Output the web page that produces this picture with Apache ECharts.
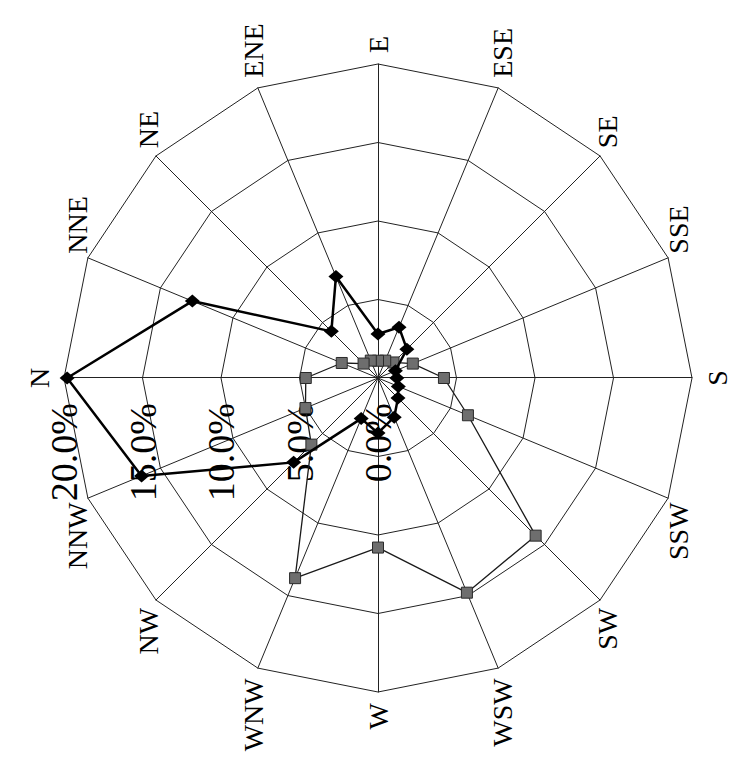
<!DOCTYPE html>
<html>
<head>
<meta charset="utf-8">
<script src="https://cdn.jsdelivr.net/npm/echarts@6/dist/echarts.min.js"></script>
<style>
  html, body { margin: 0; padding: 0; background: #fff; overflow: hidden; }
  body { width: 742px; height: 758px; position: relative; }
  /* chart is drawn upright (N on top) and turned a quarter left, like the scan */
  #windRose {
    position: absolute;
    left: -8px;
    top: 8px;
    width: 758px;
    height: 742px;
    transform: rotate(-90deg);
    transform-origin: 50% 50%;
  }
</style>
</head>
<body>
<div id="windRose"></div>
<script>
// 16 directions, clockwise from N
const directions = ['N', 'NNE', 'NE', 'ENE', 'E', 'ESE', 'SE', 'SSE', 'S', 'SSW', 'SW', 'WSW', 'W', 'WNW', 'NW', 'NNW']
// frequency (%) - black diamonds
const freqDiamond = [19.8, 12.8, 4.2, 7.0, 2.8, 3.5, 2.6, 1.2, 1.2, 1.4, 1.8, 2.7, 3.5, 2.8, 7.6, 16.3]
// frequency (%) - grey squares
const freqSquare = [4.6, 2.5, 1.3, 1.2, 1.1, 1.2, 1.4, 2.4, 4.2, 6.2, 14.2, 14.8, 10.8, 13.8, 6.0, 5.0]
// radial tick values (%)
const radialTicks = [0, 5, 10, 15, 20]

// echarts lays radar indicators counter-clockwise, so keep N first and flip the rest
const clockwise = (arr) => [arr[0]].concat(arr.slice(1).reverse())

let myChart = echarts.init(document.getElementById('windRose'), null, { renderer: 'svg' })

let indicator = clockwise(directions).map((name, i) => {
  let item = {
    name: name,
    min: radialTicks[0],
    max: radialTicks[radialTicks.length - 1],
  }
  if (i === 0) {
    // only the N spoke carries the % labels
    item.axisLabel = { show: true }
  }
  return item
})

let option = {
  animation: false,
  backgroundColor: '#fff',
  radar: {
    center: [380, 378],
    radius: 314,
    startAngle: 90,
    shape: 'polygon',
    splitNumber: radialTicks.length - 1,
    indicator: indicator,
    nameGap: 11,
    axisName: {
      color: '#000',
      fontFamily: 'Liberation Serif',
      fontSize: 28,
    },
    axisLine: {
      lineStyle: { color: '#222', width: 1 },
    },
    axisTick: { show: false },
    axisLabel: {
      show: false,
      color: '#000',
      fontFamily: 'Liberation Serif',
      fontSize: 38,
      margin: 25,
      formatter: (v) => v.toFixed(1) + '%',
    },
    splitLine: {
      lineStyle: { color: '#222', width: 1 },
    },
    splitArea: { show: false },
  },
  series: [
    {
      name: 'diamond',
      type: 'radar',
      z: 3,
      data: [
        {
          value: clockwise(freqDiamond),
          symbol: 'diamond',
          symbolSize: [13, 15],
          lineStyle: { color: '#000', width: 2.5 },
          itemStyle: { color: '#000' },
        },
      ],
    },
    {
      name: 'square',
      type: 'radar',
      z: 2,
      data: [
        {
          value: clockwise(freqSquare),
          symbol: 'rect',
          symbolSize: 11,
          lineStyle: { color: '#1a1a1a', width: 1.3 },
          itemStyle: { color: '#6e6e6e', borderColor: '#2a2a2a', borderWidth: 1 },
        },
      ],
    },
  ],
}
myChart.setOption(option, true)
</script>
</body>
</html>
